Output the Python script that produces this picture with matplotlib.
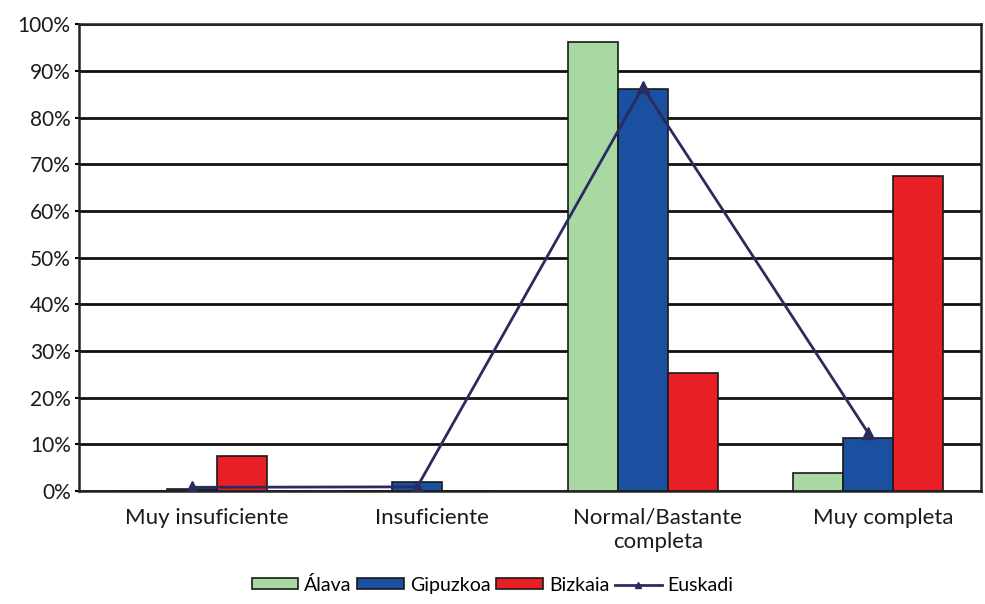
import matplotlib
matplotlib.use("Agg")
import matplotlib.pyplot as plt
import matplotlib.transforms as mtransforms
import numpy as np

categories = ["Muy insuficiente", "Insuficiente", "Normal/Bastante\ncompleta", "Muy completa"]
alava = [0.0, 0.0, 96.2, 3.9]
gipuzkoa = [0.5, 1.9, 86.2, 11.3]
bizkaia = [7.5, 0.0, 25.2, 67.5]
euskadi = [0.8, 0.9, 86.5, 12.4]

plt.rcParams["font.family"] = ["Lato", "DejaVu Sans"]

fig = plt.figure(figsize=(9.85, 6.04), dpi=100)
ax = fig.add_axes([0.0802, 0.187, 0.9158, 0.773])

x = np.arange(len(categories))
w = 0.222

b1 = ax.bar(x - w, alava, w, color="#a9d9a2", edgecolor="#1a1a1a", linewidth=1.2, label="Álava", zorder=3)
b2 = ax.bar(x, gipuzkoa, w, color="#1b4f9f", edgecolor="#1a1a1a", linewidth=1.2, label="Gipuzkoa", zorder=3)
b3 = ax.bar(x + w, bizkaia, w, color="#e91f26", edgecolor="#1a1a1a", linewidth=1.2, label="Bizkaia", zorder=3)
ln, = ax.plot(x, euskadi, color="#2a2b5e", linewidth=2, marker="^", markersize=8,
              label="Euskadi", zorder=4)

ax.set_xlim(-0.5, len(categories) - 0.5)
ax.set_ylim(0, 100)
ax.set_yticks(np.arange(0, 101, 10))
ax.set_yticklabels([f"{v}%" for v in range(0, 101, 10)], fontsize=15, color="#1a1a1a")
ax.set_xticks(x)
ax.set_xticklabels(categories, fontsize=16, color="#1a1a1a", linespacing=1.25)
ax.tick_params(axis="x", length=0, pad=12)
ax.tick_params(axis="y", length=3, width=1.5, pad=3)

# category labels sit a little to the right of the group centres
shift = mtransforms.ScaledTranslation(0.15, 0, fig.dpi_scale_trans)
for lab in ax.get_xticklabels():
    lab.set_transform(lab.get_transform() + shift)

ax.yaxis.grid(True, color="#111111", linewidth=2)
ax.set_axisbelow(True)
for s in ax.spines.values():
    s.set_color("#222222")
    s.set_linewidth(1.8)

fig.legend([b1, b2, b3, ln], ["Álava", "Gipuzkoa", "Bizkaia", "Euskadi"],
           loc="lower center", bbox_to_anchor=(0.5, -0.012), ncol=4, frameon=False,
           fontsize=14, handlelength=2.4, handleheight=0.5, handletextpad=0.3,
           columnspacing=0.3, markerscale=0.6)

fig.savefig("out.png", dpi=100)
